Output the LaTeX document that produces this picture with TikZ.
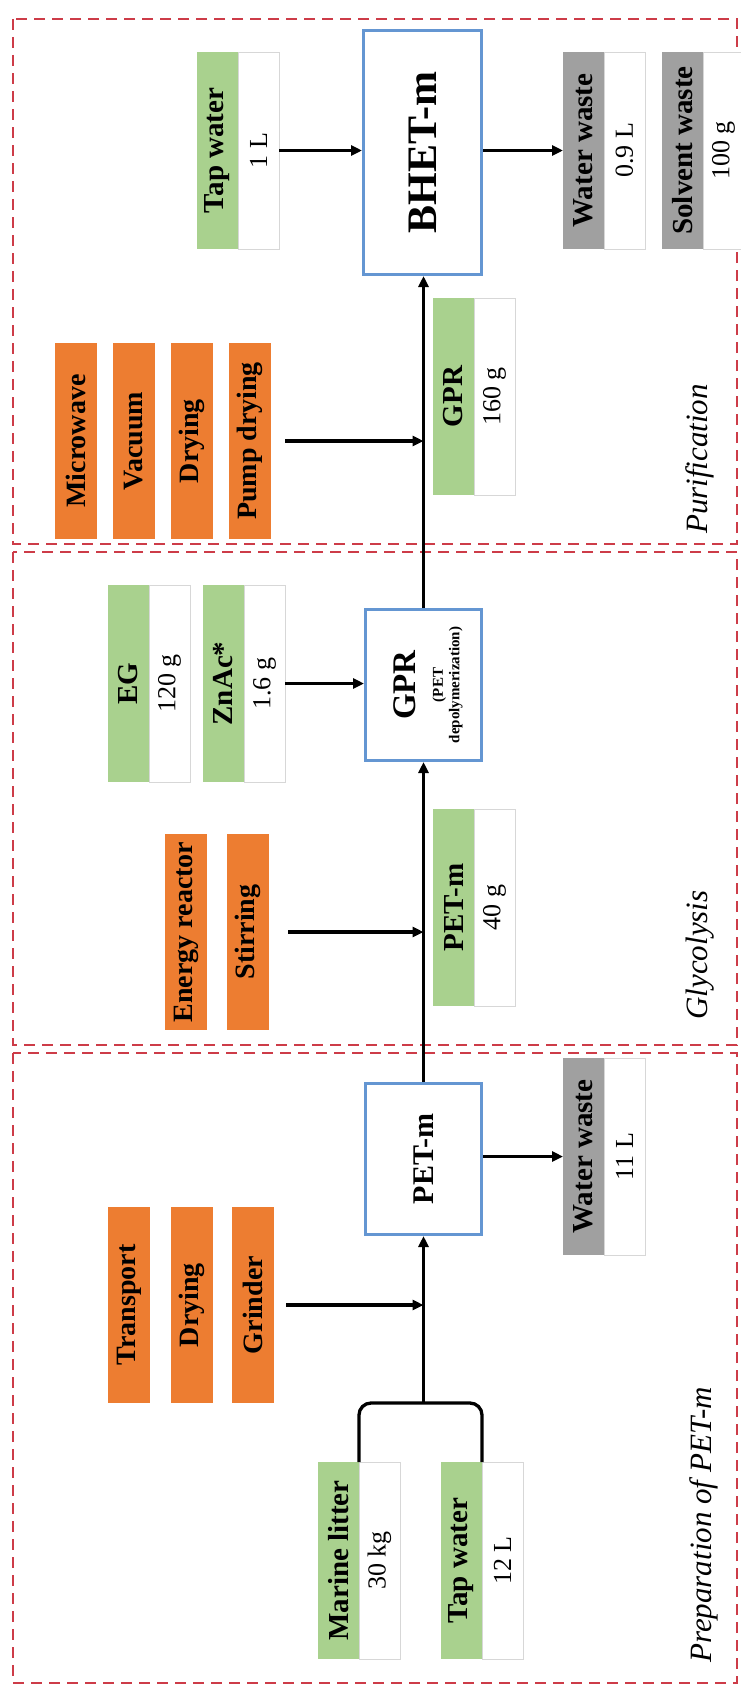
\documentclass[tikz,border=0pt]{standalone}
\usepackage{fontspec}
\setmainfont{Liberation Serif}
\usetikzlibrary{arrows.meta,calc}

\definecolor{inputgreen}{RGB}{169,209,142}
\definecolor{utilorange}{RGB}{237,125,49}
\definecolor{wastegray}{RGB}{160,160,160}
\definecolor{procblue}{RGB}{100,150,210}
\definecolor{framered}{RGB}{205,60,72}
\definecolor{cellline}{RGB}{215,215,215}

\newcommand{\vtext}[1]{\rotatebox{90}{#1}}

\begin{document}
\begin{tikzpicture}[x=1pt,y=-1pt,
  tagcell/.style={minimum width=41pt,minimum height=197pt,inner sep=0pt,outer sep=0pt,
    anchor=north west,font=\fontsize{29}{32}\selectfont\bfseries},
  greentag/.style={tagcell,fill=inputgreen},
  graytag/.style={tagcell,fill=wastegray},
  valuecell/.style={minimum width=41pt,minimum height=197pt,inner sep=0pt,outer sep=0pt,
    anchor=north west,fill=white,draw=cellline,line width=0.8pt,
    font=\fontsize{26}{28}\selectfont},
  utilbox/.style={fill=utilorange,minimum width=42pt,minimum height=196pt,inner sep=0pt,
    outer sep=0pt,anchor=north west,font=\fontsize{28}{30}\selectfont\bfseries},
  procbox/.style={draw=procblue,line width=3pt,fill=white,inner sep=0pt,anchor=north west},
  flow/.style={line width=3.3pt,-{Triangle[length=11pt,width=10pt]}},
  bracketline/.style={line width=3.3pt,rounded corners=12pt},
  sectionframe/.style={draw=framered,line width=2.8pt,dash pattern=on 11pt off 7pt},
  sectitle/.style={font=\fontsize{31}{34}\selectfont\itshape,inner sep=0pt}]

\fill[white] (0,0) rectangle (741,1686);
\useasboundingbox (0,0) rectangle (741,1686);

% stage frames
\draw[sectionframe] (13,19) rectangle (737,544);
\draw[sectionframe] (13,552) rectangle (737,1045);
\draw[sectionframe] (13,1053) rectangle (737,1683);

% ---------- Purification ----------
\node[procbox,minimum width=118pt,minimum height=244pt,
      font=\fontsize{42}{46}\selectfont\bfseries] (bhet) at (362,29) {\vtext{BHET-m}};

\node[greentag] (twA) at (197,52) {\vtext{Tap water}};
\node[valuecell] (twAv) at (238,52) {\vtext{1 L}};

\node[graytag] (wwA) at (563,52) {\vtext{Water waste}};
\node[valuecell] (wwAv) at (604,52) {\vtext{0.9 L}};

\node[graytag] (sw) at (662,52) {\vtext{Solvent waste}};
\node[valuecell] (swv) at (703,52) {\vtext{100 g}};

\node[greentag] (gprin) at (433,298) {\vtext{GPR}};
\node[valuecell] (gprinv) at (474,298) {\vtext{160 g}};

\node[utilbox] (micro) at (55,343) {\vtext{Microwave}};
\node[utilbox] (vac) at (113,343) {\vtext{Vacuum}};
\node[utilbox] (dryA) at (171,343) {\vtext{Drying}};
\node[utilbox] (pump) at (229,343) {\vtext{Pump drying}};

\node[sectitle] (tpur) at (700,459) {\vtext{Purification}};

% ---------- Glycolysis ----------
\node[procbox,minimum width=116pt,minimum height=151pt] (gpr) at (364,608) {};
\node[inner sep=0pt,font=\fontsize{33}{36}\selectfont\bfseries] (gprtitle)
  at ($(gpr.center)+(-19,0)$) {\vtext{GPR}};
\node[inner sep=0pt,font=\fontsize{15}{15}\selectfont\bfseries] (gprnote)
  at ($(gpr.center)+(24,0)$) {\vtext{\shortstack{(PET\\depolymerization)}}};

\node[greentag] (eg) at (108,585) {\vtext{EG}};
\node[valuecell] (egv) at (149,585) {\vtext{120 g}};

\node[greentag] (zn) at (203,585) {\vtext{ZnAc*}};
\node[valuecell] (znv) at (244,585) {\vtext{1.6 g}};

\node[greentag] (petin) at (433,809) {\vtext{PET-m}};
\node[valuecell] (petinv) at (474,809) {\vtext{40 g}};

\node[utilbox] (energy) at (165,834) {\vtext{Energy reactor}};
\node[utilbox] (stir) at (227,834) {\vtext{Stirring}};

\node[sectitle] (tgly) at (700,955) {\vtext{Glycolysis}};

% ---------- Preparation of PET-m ----------
\node[procbox,minimum width=116pt,minimum height=151pt,
      font=\fontsize{30}{33}\selectfont\bfseries] (petm) at (364,1082) {\vtext{PET-m}};

\node[graytag] (wwB) at (563,1058) {\vtext{Water waste}};
\node[valuecell] (wwBv) at (604,1058) {\vtext{11 L}};

\node[utilbox] (trans) at (108,1207) {\vtext{Transport}};
\node[utilbox] (dryB) at (171,1207) {\vtext{Drying}};
\node[utilbox] (grind) at (232,1207) {\vtext{Grinder}};

\node[greentag] (ml) at (318,1462) {\vtext{Marine litter}};
\node[valuecell] (mlv) at (359,1462) {\vtext{30 kg}};

\node[greentag] (twB) at (441,1462) {\vtext{Tap water}};
\node[valuecell] (twBv) at (482,1462) {\vtext{12 L}};

\node[sectitle] (tprep) at (704,1525) {\vtext{Preparation of PET-m}};

% ---------- flows ----------
\coordinate (merge) at (gpr.south |- 0,1403);

\draw[bracketline] (ml.north east) -- (ml.north east |- merge)
  -- (twB.north east |- merge) -- (twB.north east);
\draw[flow] (merge) -- (petm.south);
\draw[flow,shorten <=12pt] (grind.east) -- (grind.east -| petm.south);
\draw[flow] (petm.east |- wwB.west) -- (wwB.west);

\draw[flow] (petm.north) -- (gpr.south);
\draw[flow,shorten <=19pt] (stir.east) -- (stir.east -| gpr.south);
\draw[flow] (znv.east) -- (znv.east -| gpr.west);

\draw[flow] (gpr.north) -- (gpr.north |- bhet.south);
\draw[flow,shorten <=14pt] (pump.east) -- (pump.east -| gpr.north);
\draw[flow] (twAv.east) -- (twAv.east -| bhet.west);
\draw[flow] (bhet.east |- wwA.west) -- (wwA.west);

\end{tikzpicture}
\end{document}
